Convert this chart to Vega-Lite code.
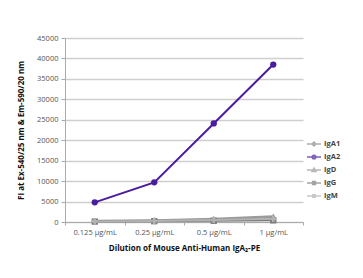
{
  "$schema": "https://vega.github.io/schema/vega-lite/v6.json",
  "autosize": {"type": "none"},
  "padding": {"left": 65, "top": 38, "right": 60, "bottom": 56},
  "width": 238,
  "height": 184,
  "background": "white",
  "data": {"values": [
    {"dose": "0.125 µg/mL", "series": "IgA1", "fi": 200},
    {"dose": "0.25 µg/mL", "series": "IgA1", "fi": 300},
    {"dose": "0.5 µg/mL", "series": "IgA1", "fi": 600},
    {"dose": "1 µg/mL", "series": "IgA1", "fi": 1000},
    {"dose": "0.125 µg/mL", "series": "IgA2", "fi": 4800},
    {"dose": "0.25 µg/mL", "series": "IgA2", "fi": 9700},
    {"dose": "0.5 µg/mL", "series": "IgA2", "fi": 24100},
    {"dose": "1 µg/mL", "series": "IgA2", "fi": 38500},
    {"dose": "0.125 µg/mL", "series": "IgD", "fi": 300},
    {"dose": "0.25 µg/mL", "series": "IgD", "fi": 450},
    {"dose": "0.5 µg/mL", "series": "IgD", "fi": 800},
    {"dose": "1 µg/mL", "series": "IgD", "fi": 1400},
    {"dose": "0.125 µg/mL", "series": "IgG", "fi": 100},
    {"dose": "0.25 µg/mL", "series": "IgG", "fi": 200},
    {"dose": "0.5 µg/mL", "series": "IgG", "fi": 300},
    {"dose": "1 µg/mL", "series": "IgG", "fi": 400},
    {"dose": "0.125 µg/mL", "series": "IgM", "fi": 150},
    {"dose": "0.25 µg/mL", "series": "IgM", "fi": 250},
    {"dose": "0.5 µg/mL", "series": "IgM", "fi": 500},
    {"dose": "1 µg/mL", "series": "IgM", "fi": 800}
  ]},
  "encoding": {
    "x": {
      "field": "dose", "type": "ordinal", "sort": null,
      "scale": {"type": "band", "paddingInner": 0, "paddingOuter": 0},
      "title": "Dilution of Mouse Anti-Human IgA₂-PE",
      "axis": {
        "labelAngle": 0, "tickBand": "extent", "tickSize": 3, "tickColor": "#aaaaaa",
        "domainColor": "#aaaaaa", "labelPadding": 3, "titlePadding": 9, "grid": false
      }
    },
    "y": {
      "field": "fi", "type": "quantitative",
      "scale": {"domain": [0, 45000]},
      "title": "FI at Ex-540/25 nm & Em-590/20 nm",
      "axis": {
        "values": [0, 5000, 10000, 15000, 20000, 25000, 30000, 35000, 40000, 45000],
        "format": "d", "tickSize": 4, "tickColor": "#aaaaaa", "domainColor": "#aaaaaa",
        "gridColor": "#cfcfcf", "gridWidth": 1.5, "labelPadding": 3, "titlePadding": 11
      }
    }
  },
  "layer": [
    {
      "transform": [{"filter": "datum.fi < 0"}],
      "mark": {"type": "point", "filled": false, "strokeWidth": 1.5},
      "encoding": {
        "color": {
          "field": "series", "type": "nominal",
          "scale": {"domain": ["IgA1", "IgA2", "IgD", "IgG", "IgM"],
                    "range": ["#8c8c8c", "#4a1c9e", "#9a9a9a", "#7d7d7d", "#b2b2b2"]},
          "legend": {
            "title": null, "orient": "none", "legendX": 241, "legendY": 98,
            "rowPadding": 0, "labelFontSize": 7.5, "labelFontWeight": "bold",
            "labelColor": "#444444", "symbolSize": 196, "symbolStrokeWidth": 1.5, "labelOffset": 2
          }
        },
        "shape": {
          "field": "series", "type": "nominal",
          "scale": {"domain": ["IgA1", "IgA2", "IgD", "IgG", "IgM"],
                    "range": [
                      "M -1 0 L 1 0 M 0 -0.28 L 0.28 0 L 0 0.28 L -0.28 0 Z",
                      "M -1 0 L 1 0 M 0.26 0 A 0.26 0.26 0 1 1 -0.26 0 A 0.26 0.26 0 1 1 0.26 0 Z",
                      "M -1 0 L 1 0 M 0 -0.28 L 0.28 0.2 L -0.28 0.2 Z",
                      "M -1 0 L 1 0 M -0.2 -0.2 L 0.2 -0.2 L 0.2 0.2 L -0.2 0.2 Z",
                      "M -1 0 L 1 0 M -0.24 -0.24 L 0.24 0.24 M -0.24 0.24 L 0.24 -0.24 M 0 -0.3 L 0 0.3"
                    ]},
          "legend": {
            "title": null, "orient": "none", "legendX": 241, "legendY": 98,
            "rowPadding": 0, "labelFontSize": 7.5, "labelFontWeight": "bold",
            "labelColor": "#444444", "symbolSize": 196, "symbolStrokeWidth": 1.5, "labelOffset": 2
          }
        }
      }
    },
    {
      "mark": {"type": "line", "strokeWidth": 2, "point": {"filled": true, "size": 40}},
      "encoding": {
        "color": {
          "field": "series", "type": "nominal",
          "scale": {"domain": ["IgA1", "IgA2", "IgD", "IgG", "IgM"],
                    "range": ["#8c8c8c", "#4a1c9e", "#9a9a9a", "#7d7d7d", "#b2b2b2"]},
          "legend": null
        },
        "shape": {
          "field": "series", "type": "nominal",
          "scale": {"domain": ["IgA1", "IgA2", "IgD", "IgG", "IgM"],
                    "range": ["diamond", "circle", "triangle-up", "square", "cross"]},
          "legend": null
        }
      }
    }
  ],
  "resolve": {"scale": {"shape": "independent", "color": "independent"}},
  "config": {
    "font": "Open Sans",
    "view": {"stroke": null},
    "axis": {
      "labelFontSize": 7.5, "labelColor": "#555555",
      "titleFontSize": 8, "titleFontWeight": "bold", "titleColor": "#111111"
    }
  }
}
